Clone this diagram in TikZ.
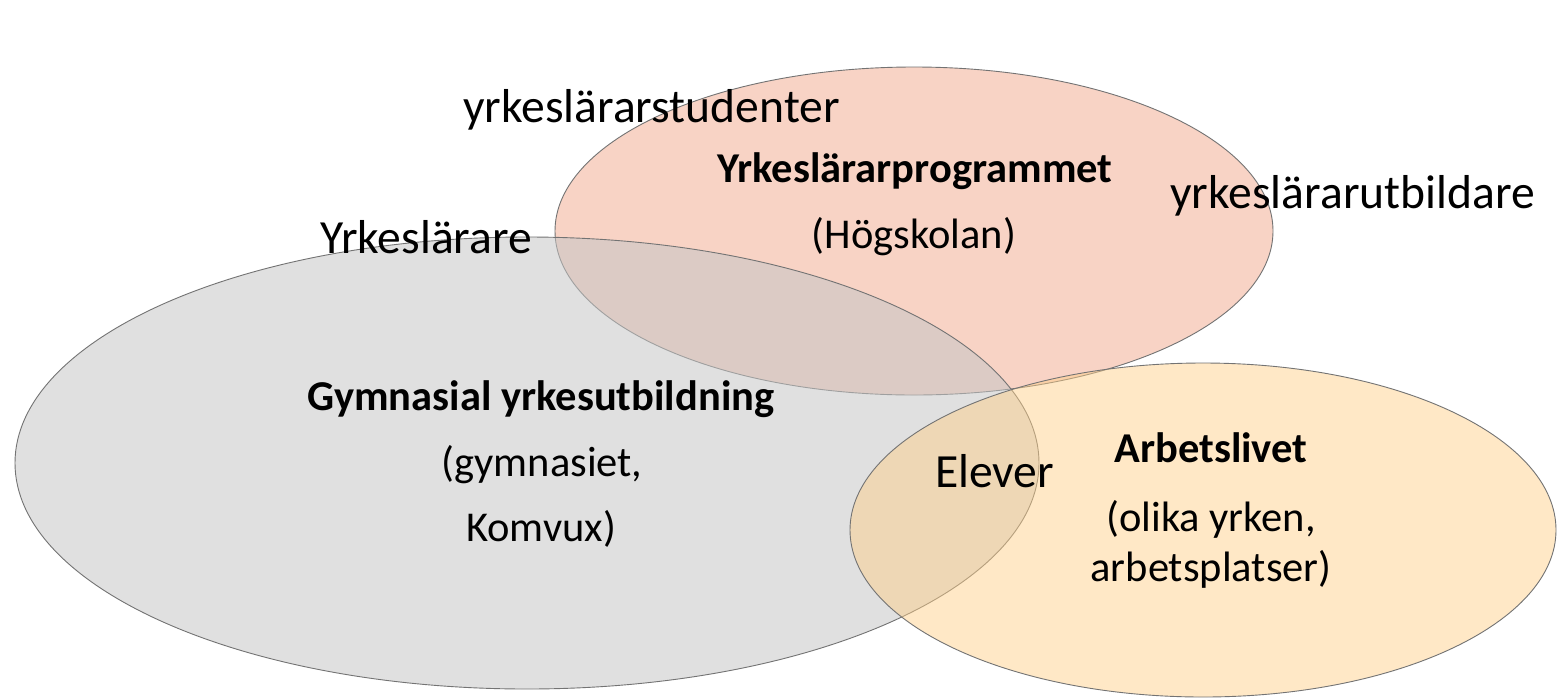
\documentclass[tikz,border=0pt]{standalone}
\usepackage{fontspec}
\setmainfont{Carlito}
\definecolor{pinkfill}{RGB}{248,211,197}
\definecolor{grayfill}{RGB}{198,198,198}
\definecolor{yellowfill}{RGB}{255,207,136}
\definecolor{edgecol}{RGB}{115,115,115}
\tikzset{
  blob/.style={draw=edgecol, line width=0.9pt},
  outer/.style={anchor=base west, inner sep=0pt, font=\fontsize{47.6}{52}\selectfont},
  inner/.style={anchor=base, inner sep=0pt, font=\fontsize{42.5}{46}\selectfont},
  title/.style={inner, font=\fontsize{42.5}{46}\selectfont\bfseries},
}
\begin{document}
\begin{tikzpicture}[x=1pt,y=-1pt]
\useasboundingbox (0,0) rectangle (1557,697);
% ellipses
\fill[white] (0,0) rectangle (1557,697);
\draw[blob, fill=pinkfill] (914,231) ellipse [x radius=359pt, y radius=164pt];
\draw[blob, fill=grayfill, fill opacity=0.54] (527,463) ellipse [x radius=512pt, y radius=226pt];
\draw[blob, fill=yellowfill, fill opacity=0.48] (1203,530) ellipse [x radius=353pt, y radius=167pt];
% labels
\node[outer] (stud) at (463,122) {yrkeslärarstudenter};
\node[outer] (utb) at (1170,208) {yrkeslärarutbildare};
\node[outer] (yl) at (320,253) {Yrkeslärare};
\node[outer] (elev) at (935,487) {Elever};
\node[title] (prog) at (915,182) {Yrkeslärarprogrammet};
\node[inner] (hog) at (914,248) {(Högskolan)};
\node[title] (gym) at (541,410) {Gymnasial yrkesutbildning};
\node[inner] (gym2) at (542,476) {(gymnasiet,};
\node[inner] (gym3) at (541,541) {Komvux)};
\node[title] (arb) at (1211,462) {Arbetslivet};
\node[inner] (arb2) at (1211,531) {(olika yrken,};
\node[inner] (arb3) at (1211,581) {arbetsplatser)};
\end{tikzpicture}
\end{document}
